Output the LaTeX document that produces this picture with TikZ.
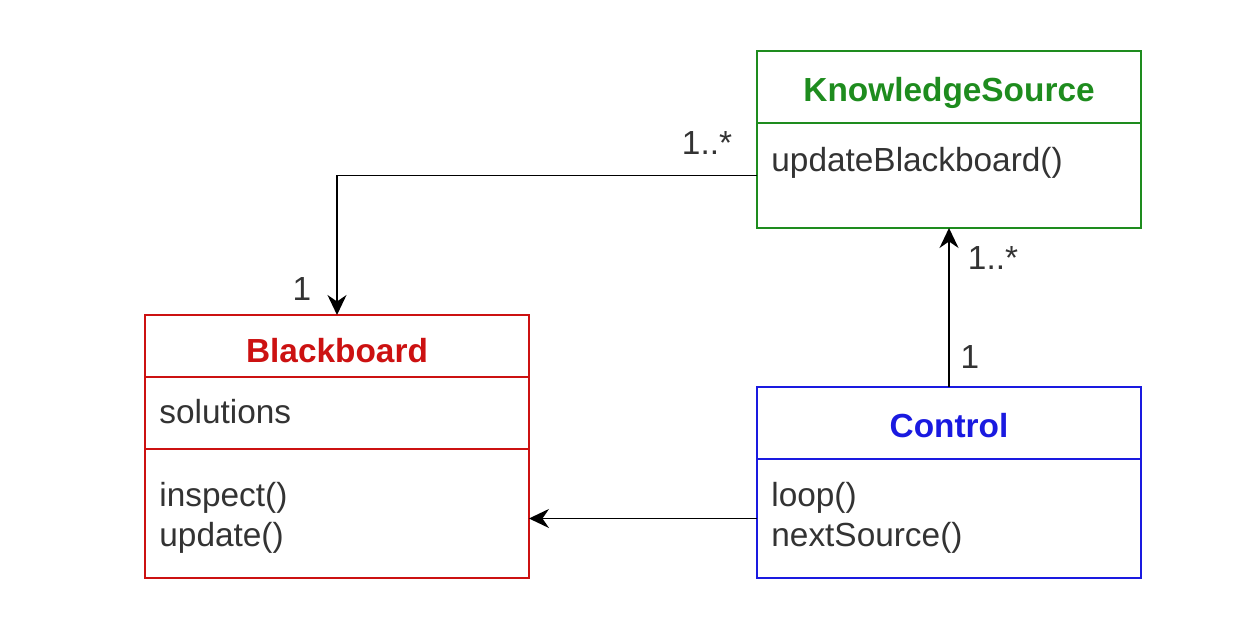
\documentclass[tikz,border=0pt]{standalone}
\usepackage{fontspec}
\setmainfont{Liberation Sans}
\usetikzlibrary{arrows.meta,positioning}
\definecolor{ksgreen}{HTML}{1E8C1E}
\definecolor{bbred}{HTML}{CC1111}
\definecolor{ctlblue}{HTML}{1A1AE0}
\definecolor{graytext}{HTML}{333333}
\tikzset{
  classhead/.style={draw=#1,text=#1,fill=white,line width=0.9pt,minimum width=7.68cm,outer sep=0pt,text height=17pt,text depth=1pt,font=\bfseries\fontsize{19}{23}\selectfont},
  classpart/.style={draw=#1,fill=white,line width=0.9pt,minimum width=7.68cm,outer sep=0pt},
  member/.style={font=\fontsize{19}{22.8}\selectfont,text=graytext,align=left,anchor=west,inner sep=0pt},
  mult/.style={font=\fontsize{19}{23}\selectfont,text=graytext,inner sep=0pt},
  assoc/.style={-{Stealth[length=4mm,width=3.8mm]},draw=black,line width=1.1pt}
}

\begin{document}
\begin{tikzpicture}[x=0.02cm,y=0.02cm]
\path[use as bounding box,fill=white] (0,0) rectangle (1246,616);

% classes
\node[classhead=ksgreen,minimum height=1.44cm] (ks) at (949,529) {KnowledgeSource};
\node[classpart=ksgreen,minimum height=2.1cm,below=0pt of ks] (ksops) {};
\node[classhead=bbred,minimum height=1.24cm,text height=19pt,text depth=0pt] (bb) at (337,270) {Blackboard};
\node[classpart=bbred,minimum height=1.44cm,below=0pt of bb] (bbattr) {};
\node[classpart=bbred,minimum height=2.58cm,below=0pt of bbattr] (bbops) {};
\node[classhead=ctlblue,minimum height=1.44cm] (ctl) at (949,193) {Control};
\node[classpart=ctlblue,minimum height=2.38cm,below=0pt of ctl] (ctlops) {};

% members
\node[member] (ksupd) at ([shift={(14,-40)}]ksops.north west) {updateBlackboard()};
\node[member] (bbsol) at ([shift={(14,-35)}]bbattr.north west) {solutions};
\node[member] (bbmeth) at ([shift={(14,-69)}]bbops.north west) {inspect()\\update()};
\node[member] (ctlmeth) at ([shift={(14,-59)}]ctlops.north west) {loop()\\nextSource()};

% associations
\draw[assoc] (ksops.west) -| (bb.north);
\draw[assoc] (ctl.north) -- (ksops.south);
\draw[assoc] (ctlops.west) -- (ctlops.west -| bbops.east);

% multiplicities
\node[mult] (ksmany) at ([shift={(-50,32)}]ksops.west) {1..*};
\node[mult] (bbone) at ([shift={(-35,26)}]bb.north) {1};
\node[mult] (ksmany2) at ([shift={(44,-30)}]ksops.south) {1..*};
\node[mult] (ctlone) at ([shift={(21,30)}]ctl.north) {1};
\end{tikzpicture}
\end{document}
